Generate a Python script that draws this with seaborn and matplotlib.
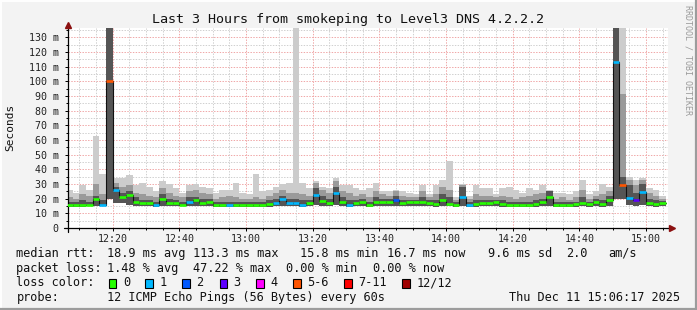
import numpy as np
import matplotlib
matplotlib.use("Agg")
import matplotlib.pyplot as plt
from matplotlib.patches import Rectangle
from matplotlib.lines import Line2D
import seaborn as sns

# ---- data (2-minute bins, minutes after 12:00) ----
start_min = 6
step_min = 2
median_ms = [16, 16, 16, 16, 19.5, 16, 100, 25.7, 21, 22.5, 18, 17, 17, 16, 20, 17, 17, 16, 18, 19, 17, 18, 16,
             16, 16, 16, 16, 16, 16, 16, 16.5, 17, 19.5, 17, 17, 16, 17, 22.5, 18.5, 17, 24, 17.5, 16, 17, 17.5,
             16, 18, 18, 18, 19, 17, 17.5, 17.5, 18, 17, 16.5, 19, 16.5, 16, 21, 16, 16.5, 17, 17, 17.5, 16.5,
             16, 16, 16, 16, 16.5, 17.5, 21, 16, 16, 16, 16.5, 17, 16.5, 17.5, 16.5, 19, 113, 29, 20.5, 19, 24.5,
             17, 16.5, 17]
loss = [0, 0, 0, 0, 0, 1, 5, 1, 0, 0, 0, 0, 0, 1, 0, 0, 0, 0, 1, 0, 0, 0, 0,
        0, 1, 0, 0, 0, 0, 0, 0, 1, 1, 1, 1, 1, 0, 1, 0, 0, 1, 0, 1, 0, 0,
        0, 0, 0, 0, 2, 0, 0, 0, 0, 0, 0, 0, 0, 0, 1, 1, 0, 0, 0, 0, 0,
        0, 0, 0, 0, 0, 0, 0, 0, 0, 0, 0, 0, 0, 0, 0, 0, 1, 5, 1, 3, 1,
        0, 0, 0]
smoke_min = [14.5, 14.5, 14.5, 15, 15, 15, 20, 17, 17, 16, 15, 15, 15, 14.5, 15, 15, 15, 15, 15, 15, 15, 15, 14.5,
             14.5, 14.5, 14.5, 14.5, 14.5, 14.5, 14.5, 14.5, 15, 15, 15, 15, 14.5, 15, 16, 15, 15, 16, 15, 14.5, 15, 15,
             14.5, 15, 15, 15, 15, 15, 15, 15, 15, 15, 14.5, 15, 15, 14.5, 15, 14.5, 14.5, 15, 15, 15, 14.5,
             14.5, 14.5, 14.5, 14.5, 14.5, 15, 15, 14.5, 14.5, 14.5, 14.5, 15, 14.5, 15, 14.5, 15, 20, 20, 16, 15, 16,
             15, 14.5, 15]
smoke_dark = [18, 18, 19, 18, 22, 19, 140, 28, 24, 25, 21, 19, 19, 18, 23, 20, 19, 18, 21, 21, 20, 20, 18,
              18, 18, 18, 17.5, 18, 18, 18, 19, 20, 22, 20, 20, 19, 19, 27, 22, 20, 28, 21, 19, 19, 20,
              18, 21, 20, 20, 22, 19, 19, 19, 21, 19, 19, 23, 21, 17.5, 28, 18, 19, 19, 19, 19, 19,
              18, 18, 18, 18, 19, 20, 25, 17.5, 18, 17.5, 18, 21, 18, 20, 19, 22, 140, 35, 29, 24, 30,
              20, 19, 18.5]
smoke_mid = [21, 20, 23, 22, 30, 23, 140, 31, 28, 29, 24, 23, 22, 21, 27, 24, 22, 21, 25, 26, 24, 23, 20,
             21, 22, 21, 20, 20, 21, 20, 22, 24, 26, 24, 24, 23, 22, 31, 26, 24, 32, 25, 24, 22, 23,
             21, 25, 23, 22, 25, 22, 21, 21, 25, 21, 23, 28, 26, 19, 29.5, 20, 23, 22, 22, 21, 22,
             21, 20, 21, 22, 23, 24, 25, 20, 21, 19, 21, 26, 20, 22, 23, 25, 140, 91, 33, 29, 33,
             24, 22, 20]
smoke_max = [26, 24, 29, 26, 63, 37, 140, 34, 34, 36, 29, 31, 28, 25, 32, 30, 27, 24, 29, 30, 28, 27, 24,
             26, 26, 31, 24, 23, 37, 25, 26, 28, 30, 31, 140, 31, 27, 32, 28, 27, 34, 29, 29, 27, 26,
             27, 31, 25, 25, 26, 25, 24, 23, 29, 23, 29, 33, 46, 21, 30, 22, 29, 27, 27, 23, 27,
             28, 26, 24, 27, 26, 29, 26, 24, 24, 23, 25, 33, 23, 25, 30, 28, 140, 140, 35, 33, 34,
             27, 26, 22]
loss_labels = ["0", "1", "2", "3", "4", "5-6", "7-11", "12/12"]
loss_colors = ["#26ff00", "#00b8ff", "#0059ff", "#5e00ff", "#ff00ff", "#ff5500", "#ff0000", "#a00000"]
xtick_minutes = [20, 40, 60, 80, 100, 120, 140, 160, 180]
ytick_values = [0, 10, 20, 30, 40, 50, 60, 70, 80, 90, 100, 110, 120, 130]


def loss_color(n):
    if n <= 4:
        return loss_colors[n]
    if n <= 6:
        return loss_colors[5]
    if n <= 11:
        return loss_colors[6]
    return loss_colors[7]


sns.set_style("white")
plt.rcParams['font.family'] = ['DejaVu Sans Mono']

W, H = 697, 310
fig = plt.figure(figsize=(W / 100, H / 100), dpi=100, facecolor="#f3f3f3")
ax = fig.add_axes([68 / W, (H - 228) / H, 600 / W, 200 / H])
ax.set_facecolor("white")

n = len(median_ms)
t = start_min + step_min * np.arange(n)
te = np.append(t, t[-1] + step_min)


def ext(a):
    return np.append(a, a[-1])


XMIN, XMAX = 6.6, 186.6
YMAX = 136.3

# grid
gls = (0, (1.4, 1.4))
for v in range(5, 140, 5):
    ax.axhline(v, color="#f0a8a8" if v % 10 == 0 else "#d0d0d0", lw=0.72, ls=gls, zorder=0.5)
for m in range(10, 187, 5):
    ax.axvline(m, color="#f0a8a8" if m % 20 == 0 else "#d0d0d0", lw=0.72, ls=gls, zorder=0.5)

# smoke
ax.fill_between(te, ext(smoke_min), ext(smoke_max), step="post", color="#cccccc", lw=0, zorder=1)
ax.fill_between(te, ext(smoke_min), ext(smoke_mid), step="post", color="#9a9a9a", lw=0, zorder=1.1)
ax.fill_between(te, ext(smoke_min), ext(smoke_dark), step="post", color="#555555", lw=0, zorder=1.2)

# median
sns.lineplot(x=te, y=ext(median_ms), drawstyle="steps-post", color="#111111", lw=0.8,
             estimator=None, ax=ax, zorder=2)
ax.hlines(median_ms, t, t + step_min, colors=[loss_color(k) for k in loss], lw=1.9, zorder=3)

ax.set_xlim(XMIN, XMAX)
ax.set_ylim(0, YMAX)
for s in ax.spines.values():
    s.set_visible(False)

ax.set_xticks(xtick_minutes)
ax.set_xticklabels([f"{12 + m // 60}:{m % 60:02d}" for m in xtick_minutes])
ax.set_xticks(list(range(10, 187, 5)), minor=True)
ax.set_yticks(ytick_values)
ax.set_yticklabels(["0" if v == 0 else f"{v} m" for v in ytick_values])
ax.set_yticks(list(range(5, 136, 10)), minor=True)
ax.tick_params(axis="both", which="major", direction="out", length=2.5, width=0.72,
               color="black", labelsize=7.2, labelcolor="#222222", bottom=True, left=True)
ax.tick_params(axis="both", which="minor", direction="out", length=1.5, width=0.72,
               color="black", bottom=True, left=True)
ax.tick_params(axis="y", pad=4.3)
ax.tick_params(axis="x", pad=2.0)
ax.set_xlabel("")
ax.set_ylabel("")

# axis lines with arrows
ax.add_line(Line2D([0, 0], [-0.02, 1.02], transform=ax.transAxes, color="black", lw=0.9, clip_on=False))
ax.add_line(Line2D([-4 / 600, 1.006], [0, 0], transform=ax.transAxes, color="black", lw=0.9, clip_on=False))
ax.plot([0], [1.0175], marker="^", color="#8b1010", ms=4.2, transform=ax.transAxes, clip_on=False)
ax.plot([1.006], [0], marker=">", color="#8b1010", ms=4.2, transform=ax.transAxes, clip_on=False)


# texts
def ft(x, y, s, **kw):
    kw.setdefault("fontsize", 8.6)
    kw.setdefault("color", "#111111")
    kw.setdefault("va", "center")
    fig.text(x / W, 1 - y / H, s, **kw)


ft(348, 19, "Last 3 Hours from smokeping to Level3 DNS 4.2.2.2", fontsize=9.6, ha="center")
ft(688, 60, "RRDTOOL / TOBI OETIKER", fontsize=6.0, ha="center", rotation=-90, color="#9a9a9a")
ft(10, 127, "Seconds", fontsize=8.0, ha="center", rotation=90)

r1 = 253.5
ft(16.5, r1, "median rtt:")
ft(107.3, r1, "18.9 ms avg")
ft(192.7, r1, "113.3 ms max")
ft(300, r1, "15.8 ms min")
ft(386.7, r1, "16.7 ms now")
ft(488.3, r1, "9.6 ms sd")
ft(566, r1, "2.0")
ft(608, r1, "am/s")
r2 = 268.3
ft(16.5, r2, "packet loss:")
ft(107.3, r2, "1.48 % avg")
ft(192.7, r2, "47.22 % max")
ft(286, r2, "0.00 % min")
ft(373.3, r2, "0.00 % now")
r3 = 283
ft(16.5, r3, "loss color:")
sq_x = [108.9, 145.3, 182.2, 219.6, 256.4, 293.3, 344.4, 402.2]
for xx, lab, col in zip(sq_x, loss_labels, loss_colors):
    fig.add_artist(Rectangle((xx / W, 1 - (r3 + 4.5) / H), 7.5 / W, 9 / H, transform=fig.transFigure,
                             facecolor=col, edgecolor="black", lw=0.8))
    ft(xx + 14, r3, lab)
r4 = 297.5
ft(16.5, r4, "probe:")
ft(107.3, r4, "12 ICMP Echo Pings (56 Bytes) every 60s")
ft(680, r4, "Thu Dec 11 15:06:17 2025", ha="right")

# 3D frame
fig.add_artist(Line2D([0, 1], [1 - 0.5 / H, 1 - 0.5 / H], transform=fig.transFigure, color="white", lw=1.4))
fig.add_artist(Line2D([0.5 / W, 0.5 / W], [0, 1], transform=fig.transFigure, color="white", lw=1.4))
fig.add_artist(Line2D([0, 1], [1 / H, 1 / H], transform=fig.transFigure, color="#9c9c9c", lw=1.6))
fig.add_artist(Line2D([1 - 1 / W, 1 - 1 / W], [0, 1], transform=fig.transFigure, color="#9c9c9c", lw=1.6))

fig.savefig("out.png", dpi=100, facecolor=fig.get_facecolor())
